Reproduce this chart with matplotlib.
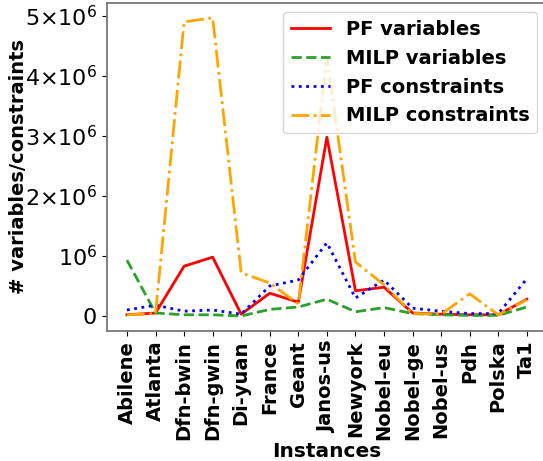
import matplotlib
matplotlib.use("Agg")
import matplotlib.pyplot as plt
from matplotlib.ticker import FuncFormatter

instances = ["Abilene", "Atlanta", "Dfn-bwin", "Dfn-gwin", "Di-yuan", "France", "Geant",
             "Janos-us", "Newyork", "Nobel-eu", "Nobel-ge", "Nobel-us", "Pdh", "Polska", "Ta1"]

# values in millions
pf_vars = [0.02, 0.05, 0.83, 0.98, 0.03, 0.38, 0.23, 2.98, 0.42, 0.48, 0.05, 0.03, 0.02, 0.02, 0.28]
milp_vars = [0.93, 0.05, 0.02, 0.02, 0.0, 0.11, 0.15, 0.28, 0.07, 0.14, 0.04, 0.02, 0.01, 0.01, 0.15]
pf_cons = [0.10, 0.18, 0.08, 0.10, 0.03, 0.50, 0.60, 1.22, 0.30, 0.60, 0.13, 0.08, 0.04, 0.04, 0.62]
milp_cons = [0.02, 0.04, 4.90, 4.97, 0.72, 0.55, 0.20, 4.32, 0.90, 0.52, 0.04, 0.03, 0.37, 0.02, 0.27]

scale = 1e6


def fmt(v, pos):
    m = int(round(v / scale))
    if m == 0:
        return "0"
    if m == 1:
        return r"$10^{6}$"
    return r"$%d{\times}10^{6}$" % m


plt.rcParams["mathtext.default"] = "regular"

fig = plt.figure(figsize=(5.43, 4.61), dpi=100)
ax = fig.add_axes([0.197, 0.282, 0.81, 0.712])

x = range(len(instances))
ax.plot(x, [v * scale for v in pf_vars], color="red", linestyle="-", linewidth=2, label="PF variables")
ax.plot(x, [v * scale for v in milp_vars], color="tab:green", linestyle="--", linewidth=2, label="MILP variables")
ax.plot(x, [v * scale for v in pf_cons], color="blue", linestyle=":", linewidth=2, label="PF constraints")
ax.plot(x, [v * scale for v in milp_cons], color="orange", linestyle="-.", linewidth=2, label="MILP constraints")

ax.set_xticks(list(x))
ax.set_xticklabels(instances, rotation=90, fontsize=14, fontweight="bold")
ax.set_yticks([0, 1e6, 2e6, 3e6, 4e6, 5e6])
ax.yaxis.set_major_formatter(FuncFormatter(fmt))
ax.tick_params(axis="y", labelsize=16)
ax.set_ylim(-0.25e6, 5.22e6)
for s in ax.spines.values():
    s.set_color("#777777")
    s.set_linewidth(1.3)

ax.set_xlabel("Instances", fontsize=14.5, fontweight="bold", labelpad=2)
ax.set_ylabel("# variables/constraints", fontsize=14, fontweight="bold", labelpad=-2)
ax.legend(loc="upper right", prop={"size": 14, "weight": "bold"})

fig.savefig("out.png", dpi=100)
